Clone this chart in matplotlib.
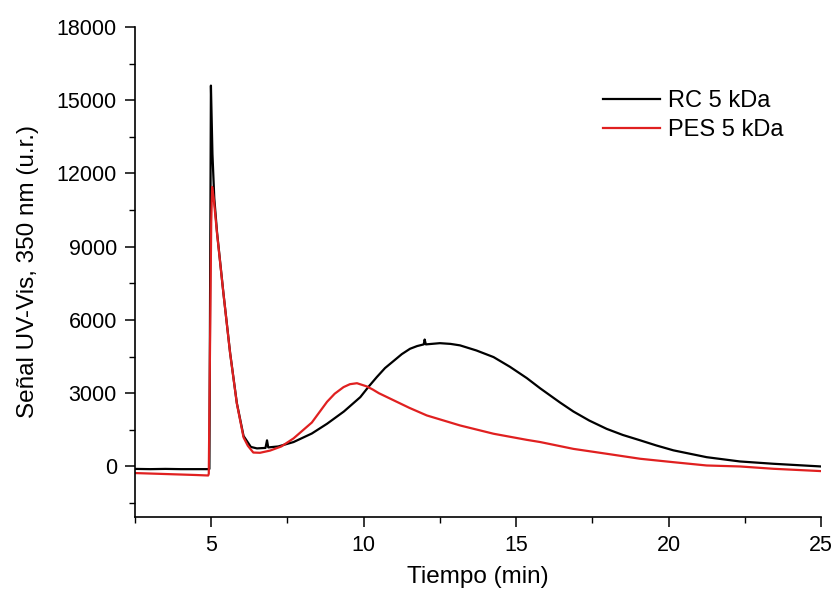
import matplotlib
matplotlib.use("Agg")
import matplotlib.pyplot as plt
from matplotlib.ticker import MultipleLocator

plt.rcParams['font.family'] = ['Liberation Sans', 'DejaVu Sans']

# RC 5 kDa (black)
t_rc = [2.5, 3.0, 3.5, 4.0, 4.5, 4.9, 4.94, 4.99, 5.04, 5.10, 5.19, 5.40, 5.62, 5.84,
        6.06, 6.30, 6.50, 6.78, 6.83, 6.87, 7.20, 7.70, 8.30, 8.80, 9.35, 9.89,
        10.15, 10.43, 10.7, 11.0, 11.25, 11.52, 11.75, 11.97, 12.0, 12.04, 12.5,
        12.85, 13.16, 13.7, 14.26, 14.8, 15.35, 15.79, 16.44, 16.88, 17.4, 17.97,
        18.5, 19.07, 19.6, 20.16, 21.25, 22.34, 23.44, 25.0]
v_rc = [-100, -110, -100, -110, -110, -110, -100, 15600, 12800, 11000, 9600, 7100,
        4650, 2600, 1250, 800, 740, 760, 1070, 780, 820, 1000, 1350, 1750, 2250,
        2840, 3250, 3660, 4030, 4340, 4600, 4820, 4930, 5000, 5200, 5000, 5050,
        5020, 4960, 4750, 4480, 4080, 3620, 3200, 2620, 2250, 1880, 1540, 1290,
        1070, 860, 660, 380, 205, 110, 0]

# PES 5 kDa (red)
t_pes = [2.5, 3.0, 3.5, 4.0, 4.5, 4.9, 4.92, 5.0, 5.03, 5.08, 5.19, 5.40, 5.62,
         5.84, 6.06, 6.20, 6.38, 6.60, 6.93, 7.30, 7.70, 8.30, 8.80, 9.05, 9.34,
         9.55, 9.78, 10.1, 10.3, 10.5, 11.0, 11.5, 12.07, 13.16, 14.26, 15.35,
         15.79, 16.88, 17.97, 19.07, 20.16, 21.25, 22.34, 23.44, 25.0]
v_pes = [-270, -290, -310, -330, -350, -370, -300, 10000, 11450, 11000, 9550, 7090,
         4630, 2580, 1190, 850, 570, 560, 650, 820, 1150, 1800, 2650, 2980, 3250,
         3370, 3410, 3280, 3150, 3000, 2700, 2400, 2090, 1680, 1340, 1090, 1000,
         720, 520, 315, 175, 40, 0, -95, -190]

x_major = [5, 10, 15, 20, 25]
y_major = [0, 3000, 6000, 9000, 12000, 15000, 18000]

fig = plt.figure(figsize=(8.35, 5.9), dpi=100)
ax = fig.add_axes([135/835, 1 - 517/590, (821 - 135)/835, (517 - 27)/590])

ax.plot(t_rc, v_rc, color='black', lw=1.6, label='RC 5 kDa')
ax.plot(t_pes, v_pes, color='#e02020', lw=1.6, label='PES 5 kDa')

ax.set_xlim(2.5, 25)
ax.set_ylim(-2070, 18000)
ax.set_xticks(x_major)
ax.set_yticks(y_major)
ax.xaxis.set_minor_locator(MultipleLocator(2.5))
ax.yaxis.set_minor_locator(MultipleLocator(1500))

for s in ['top', 'right']:
    ax.spines[s].set_visible(False)
for s in ['left', 'bottom']:
    ax.spines[s].set_linewidth(1.2)

ax.tick_params(which='major', direction='out', length=7, width=1.1, labelsize=15.5, pad=6)
ax.tick_params(which='minor', direction='out', length=4, width=1.0)

ax.set_xlabel('Tiempo (min)', fontsize=17.5, labelpad=7)
ax.set_ylabel('Señal UV-Vis, 350 nm (u.r.)', fontsize=17.5, labelpad=13)

leg = fig.legend(loc='upper left', bbox_to_anchor=(603/835, 1 - 90/590),
                 frameon=False, fontsize=17, handlelength=2.4, handletextpad=0.35,
                 labelspacing=0.3, borderpad=0, borderaxespad=0)

fig.savefig('out.png', dpi=100)
